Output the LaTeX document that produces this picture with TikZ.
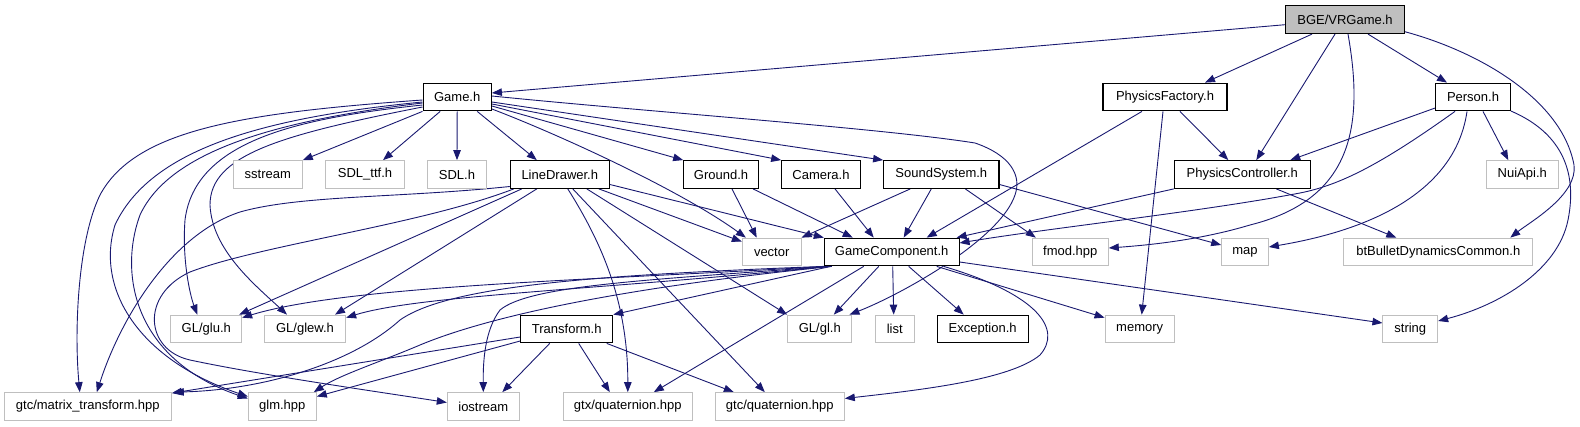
\documentclass[tikz,border=0pt]{standalone}
\usepackage{fontspec}
\setmainfont{Liberation Sans}
\usetikzlibrary{arrows.meta,backgrounds}
\definecolor{navy}{RGB}{25,25,112}
\definecolor{lgrey}{RGB}{191,191,191}
\tikzset{
  base/.style={rectangle, minimum height=27.7pt, inner sep=0pt, font=\fontsize{13}{15}\selectfont},
  doc/.style={base, draw=black, line width=1.1pt, fill=white},
  ext/.style={base, draw=lgrey, line width=1pt, fill=white},
  root/.style={base, draw=black, line width=1.1pt, fill=lgrey},
  dep/.style={draw=navy, line width=0.9pt, -{Triangle[length=10pt,width=7.5pt]}}
}
\begin{document}
\begin{tikzpicture}[x=1pt,y=-1pt]
\useasboundingbox (0,0) rectangle (1580,427);
% nodes
\node[root, minimum width=118.6pt] (v) at (1345,19.7) {BGE/VRGame.h};
\node[doc, minimum width=68.3pt] (game) at (457.2,97) {Game.h};
\node[doc, minimum width=124pt] (pf) at (1165,97) {PhysicsFactory.h};
\node[doc, minimum width=74.6pt] (person) at (1473,97) {Person.h};
\node[ext, minimum width=69pt] (sstream) at (267.8,174.5) {sstream};
\node[ext, minimum width=78.6pt] (sdlttf) at (365,174.5) {SDL\_ttf.h};
\node[ext, minimum width=58.6pt] (sdl) at (457,174.5) {SDL.h};
\node[doc, minimum width=99pt] (ld) at (559.8,174.5) {LineDrawer.h};
\node[doc, minimum width=74.6pt] (ground) at (721,174.5) {Ground.h};
\node[doc, minimum width=78.6pt] (camera) at (821,174.5) {Camera.h};
\node[doc, minimum width=115.3pt] (sound) at (941.3,174.5) {SoundSystem.h};
\node[doc, minimum width=136pt] (pc) at (1242.3,174.5) {PhysicsController.h};
\node[ext, minimum width=72pt] (nui) at (1522.3,174.5) {NuiApi.h};
\node[ext, minimum width=58.7pt] (vector) at (771.7,252) {vector};
\node[doc, minimum width=134.7pt] (gc) at (891.7,252) {GameComponent.h};
\node[ext, minimum width=76pt] (fmod) at (1070.3,252) {fmod.hpp};
\node[ext, minimum width=46.7pt] (map) at (1245,252) {map};
\node[ext, minimum width=189.3pt] (bt) at (1438.3,252) {btBulletDynamicsCommon.h};
\node[ext, minimum width=70.7pt] (glu) at (206.3,329) {GL/glu.h};
\node[ext, minimum width=81.3pt] (glew) at (305,329) {GL/glew.h};
\node[doc, minimum width=92pt] (transform) at (566.7,329) {Transform.h};
\node[ext, minimum width=64.3pt] (gl) at (819.8,329) {GL/gl.h};
\node[ext, minimum width=38.7pt] (list) at (894.7,329) {list};
\node[doc, minimum width=91.3pt] (exception) at (982.7,329) {Exception.h};
\node[ext, minimum width=69.3pt] (memory) at (1139.7,329) {memory};
\node[ext, minimum width=54.7pt] (string) at (1410.3,329) {string};
\node[ext, minimum width=167pt] (mt) at (87.8,406.5) {gtc/matrix\_transform.hpp};
\node[ext, minimum width=68pt] (glm) at (282.3,406.5) {glm.hpp};
\node[ext, minimum width=72pt] (iostream) at (483.3,406.5) {iostream};
\node[ext, minimum width=129pt] (gtxq) at (627.8,406.5) {gtx/quaternion.hpp};
\node[ext, minimum width=129pt] (gtcq) at (779.8,406.5) {gtc/quaternion.hpp};
% edges
\begin{scope}[on background layer]
% BGE/VRGame.h
\draw[dep] ([yshift=-5]v.west) -- ([yshift=4]game.east);
\draw[dep] ([xshift=-33]v.south) -- ([xshift=40]pf.north);
\draw[dep] ([xshift=-10]v.south) -- ([xshift=14]pc.north);
\draw[dep] ([xshift=3]v.south) .. controls (1365,130) and (1350,200) .. (1250,225) .. controls (1200,240) and (1150,245) .. ([yshift=4]fmod.east);
\draw[dep] ([xshift=23]v.south) -- ([xshift=-26]person.north);
\draw[dep] ([yshift=-12]v.east) .. controls (1480,52) and (1562,100) .. (1574,165) .. controls (1578,195) and (1530,222) .. ([xshift=72]bt.north);
% Game.h
\draw[dep] ([yshift=-3]game.west) .. controls (240,113) and (135,130) .. (100,195) .. controls (78,240) and (74,330) .. ([xshift=-8]mt.north);
\draw[dep] ([yshift=-5]game.west) .. controls (260,118) and (150,150) .. (115,225) .. controls (95,290) and (140,360) .. ([yshift=10]glm.west);
\draw[dep] ([yshift=-6]game.west) .. controls (280,120) and (170,150) .. (140,215) .. controls (118,275) and (135,360) .. ([yshift=8]glm.west);
\draw[dep] ([yshift=-8]game.west) .. controls (300,118) and (195,140) .. (185,220) .. controls (182,260) and (190,295) .. ([xshift=-9]glu.north);
\draw[dep] ([yshift=-10]game.west) .. controls (280,135) and (210,155) .. (210,205) .. controls (212,250) and (255,285) .. ([xshift=-18]glew.north);
\draw[dep] (game.south west) -- (sstream.north east);
\draw[dep] ([xshift=-17]game.south) -- ([xshift=18]sdlttf.north);
\draw[dep] (game.south) -- (sdl.north);
\draw[dep] ([xshift=20]game.south) -- ([xshift=-23]ld.north);
\draw[dep] ([yshift=-12]game.east) .. controls (560,135) and (680,190) .. ([xshift=4]vector.north west);
\draw[dep] ([yshift=-9]game.east) -- (ground.north west);
\draw[dep] ([yshift=-7]game.east) -- (camera.north west);
\draw[dep] ([yshift=-5]game.east) -- (sound.north west);
\draw[dep] ([yshift=1]game.east) .. controls (650,112) and (880,128) .. (975,143) .. controls (1010,155) and (1022,175) .. (1015,195) .. controls (1000,240) and (900,295) .. ([xshift=-3]gl.north east);
% LineDrawer.h
\draw[dep] ([yshift=-12]ld.west) .. controls (400,198) and (300,195) .. (240,212) .. controls (170,235) and (120,320) .. ([xshift=9]mt.north);
\draw[dep] ([xshift=-46]ld.south) .. controls (420,225) and (260,245) .. (190,272) .. controls (140,295) and (145,350) .. (190,360) .. controls (260,375) and (380,392) .. ([yshift=4]iostream.west);
\draw[dep] ([xshift=-38]ld.south) -- ([xshift=-3]glu.north east);
\draw[dep] ([xshift=-23]ld.south) -- ([xshift=30]glew.north);
\draw[dep] ([xshift=8]ld.south) .. controls (600,240) and (628,300) .. (gtxq.north);
\draw[dep] ([xshift=13]ld.south) -- ([xshift=-15]gtcq.north);
\draw[dep] ([xshift=27]ld.south) -- (gl.north west);
\draw[dep] ([xshift=-11]ld.south east) -- ([yshift=-4]vector.north west);
\draw[dep] ([yshift=-10]ld.east) -- (gc.north west);
% Ground, Camera, SoundSystem
\draw[dep] ([xshift=11]ground.south) -- ([xshift=-15]vector.north);
\draw[dep] ([xshift=32]ground.south) -- ([xshift=-39]gc.north);
\draw[dep] ([xshift=14]camera.south) -- ([xshift=-18]gc.north);
\draw[dep] ([xshift=-31]sound.south) -- (vector.north east);
\draw[dep] ([xshift=-10]sound.south) -- ([xshift=12]gc.north);
\draw[dep] ([xshift=24]sound.south) -- ([xshift=4]fmod.north west);
\draw[dep] ([yshift=-10]sound.east) -- ([yshift=7]map.west);
% PhysicsFactory.h
\draw[dep] ([xshift=-23]pf.south) -- ([xshift=35]gc.north);
\draw[dep] ([xshift=-2]pf.south) -- ([xshift=2]memory.north);
\draw[dep] ([xshift=15]pf.south) -- ([xshift=-14]pc.north);
% Person.h
\draw[dep] ([yshift=-11]person.west) -- ([xshift=48]pc.north);
\draw[dep] ([xshift=-18]person.south) .. controls (1380,165) and (1340,185) .. (1300,193) .. controls (1200,212) and (1050,228) .. ([yshift=9]gc.east);
\draw[dep] ([xshift=-6]person.south) .. controls (1458,175) and (1400,225) .. ([yshift=5]map.east);
\draw[dep] ([xshift=10]person.south) -- ([xshift=-14]nui.north);
\draw[dep] ([yshift=-14]person.east) .. controls (1560,132) and (1578,170) .. (1568,220) .. controls (1558,270) and (1500,305) .. ([yshift=8]string.east);
% PhysicsController.h
\draw[dep] ([xshift=34]pc.south) -- ([xshift=-42]bt.north);
\draw[dep] (pc.south west) -- ([xshift=-3]gc.north east);
% GameComponent.h
\draw[dep] ([xshift=2]gc.south west) .. controls (600,280) and (350,285) .. ([yshift=-3]glu.north east);
\draw[dep] ([xshift=4]gc.south west) .. controls (600,290) and (420,295) .. ([yshift=-3]glew.north east);
\draw[dep] (gc.south west) .. controls (600,275) and (450,285) .. (400,320) .. controls (350,365) and (260,390) .. ([xshift=2]mt.north east);
\draw[dep] ([xshift=8]gc.south west) .. controls (600,290) and (480,320) .. (420,345) .. controls (380,362) and (340,375) .. ([xshift=-3]glm.north east);
\draw[dep] ([xshift=6]gc.south west) .. controls (650,280) and (530,285) .. (500,310) .. controls (485,330) and (483,360) .. (iostream.north);
\draw[dep] ([xshift=-61]gc.south) -- (transform.north east);
\draw[dep] ([xshift=-28]gc.south) -- ([xshift=26]gtxq.north);
\draw[dep] ([xshift=-13]gc.south) -- ([xshift=14]gl.north);
\draw[dep] ([xshift=1]gc.south) -- ([xshift=-1]list.north);
\draw[dep] ([xshift=17]gc.south) -- ([xshift=-19]exception.north);
\draw[dep] ([xshift=45]gc.south) -- ([yshift=-3]memory.north west);
\draw[dep] ([yshift=-10]gc.east) -- ([yshift=6]string.west);
\draw[dep] ([xshift=52]gc.south) .. controls (1040,295) and (1062,330) .. (1040,355) .. controls (1010,380) and (920,390) .. ([yshift=8]gtcq.east);
% Transform.h
\draw[dep] ([yshift=-8]transform.west) -- ([yshift=-1]mt.north east);
\draw[dep] ([yshift=-12]transform.west) -- ([yshift=10]glm.east);
\draw[dep] ([xshift=-17]transform.south) -- ([xshift=19]iostream.north);
\draw[dep] ([xshift=12]transform.south) -- ([xshift=-18]gtxq.north);
\draw[dep] ([xshift=40]transform.south) -- ([xshift=-46]gtcq.north);
\end{scope}
\end{tikzpicture}
\end{document}
